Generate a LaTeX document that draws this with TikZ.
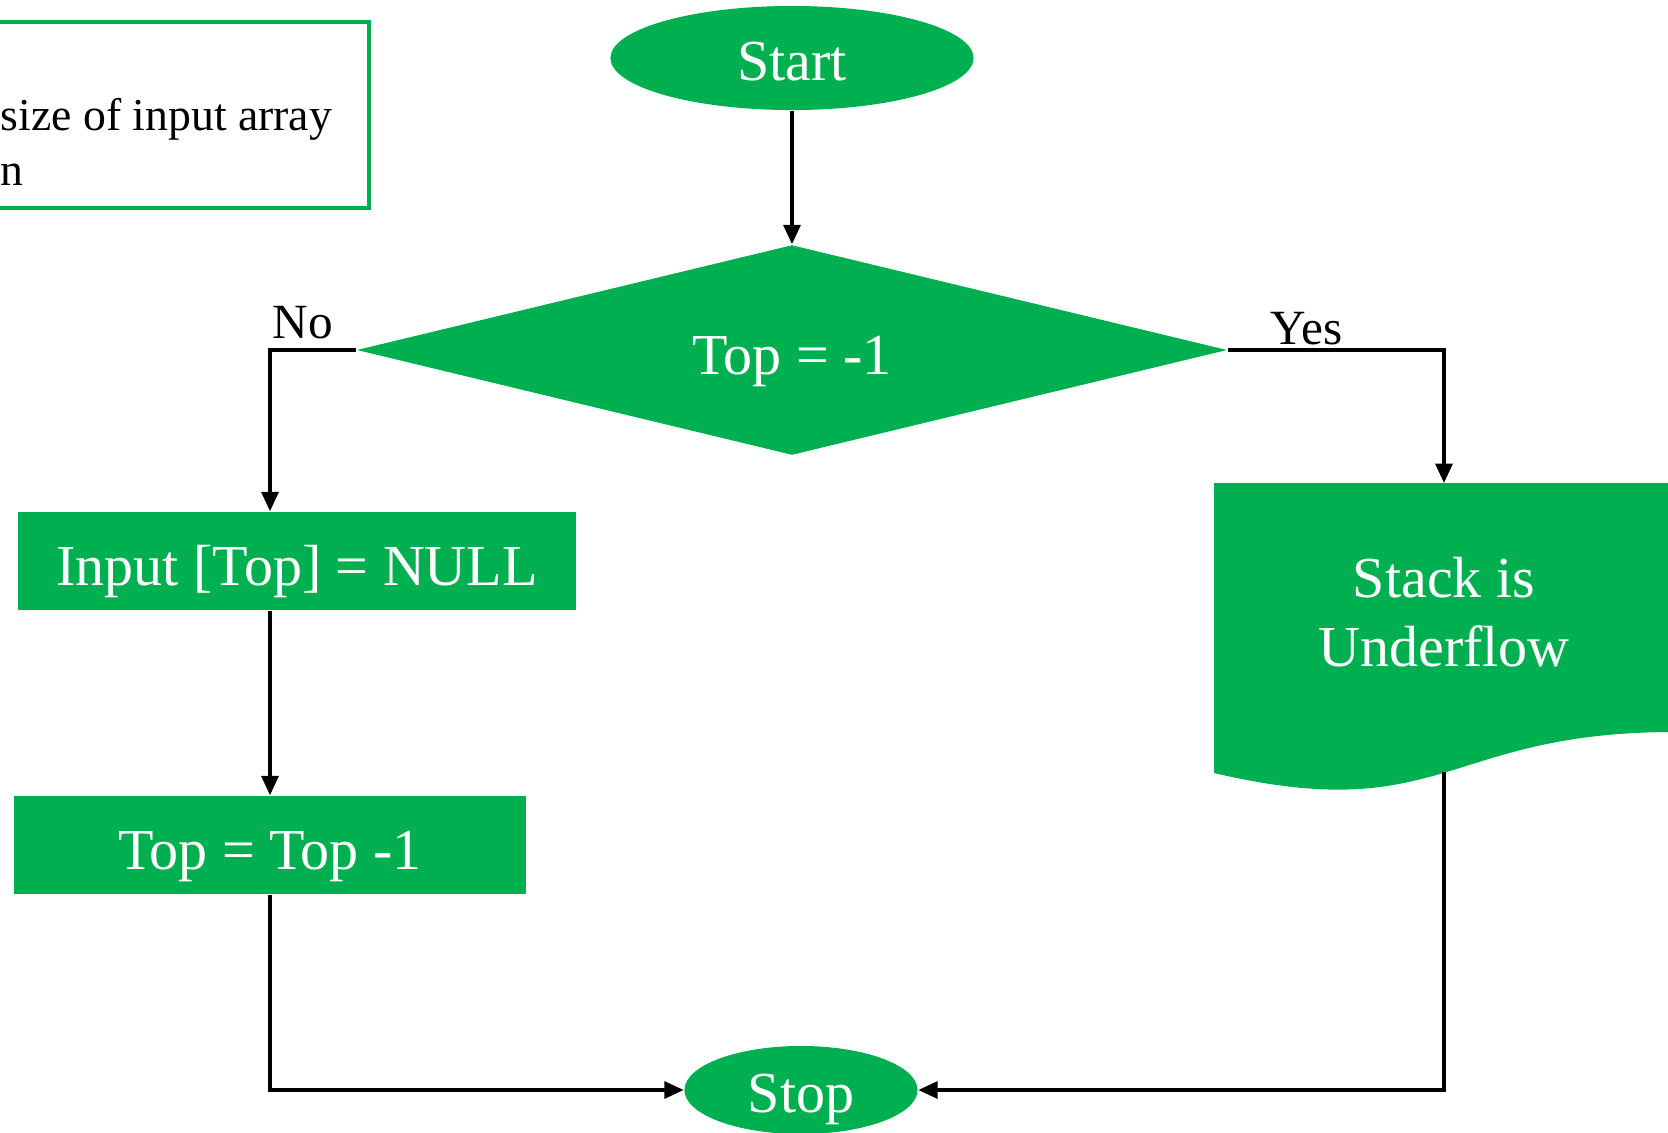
\documentclass[tikz,border=0pt]{standalone}
\usepackage{fontspec}
\setmainfont{Liberation Serif}
\usetikzlibrary{shapes.geometric,arrows.meta}
\definecolor{flowgreen}{RGB}{0,176,80}

\begin{document}
\begin{tikzpicture}[x=0.01cm,y=-0.01cm,
  bigtext/.style={font=\fontsize{16.5}{19.8}\selectfont},
  term/.style={ellipse,fill=flowgreen,text=white,inner sep=0pt,text height=14pt,text depth=1.4pt,bigtext},
  proc/.style={rectangle,fill=flowgreen,text=white,inner sep=0pt,minimum height=0.98cm,text height=17.3pt,text depth=3.6pt,bigtext},
  arr/.style={-{Triangle[length=5.5pt,width=4.8pt]},line width=0.95pt},
  lbl/.style={anchor=base west,inner sep=0pt,font=\fontsize{14}{16}\selectfont},
  notetext/.style={anchor=base west,inner sep=0pt,font=\fontsize{13}{15}\selectfont}]
  \useasboundingbox (0,0) rectangle (1668,1132);
  \clip (0,0) rectangle (1668,1132);

  \node[draw=flowgreen,line width=1.1pt,minimum width=3.79cm,minimum height=1.86cm,inner sep=0pt] (note) at (179,115) {};
  \node[notetext] (note1) at (0,130) {size of input array};
  \node[notetext] (note2) at (0,185) {n};

  \node[term,minimum width=3.63cm,minimum height=1.04cm] (start) at (792,58) {Start};
  \node[diamond,fill=flowgreen,text=white,inner sep=0pt,shape aspect=4.1,minimum width=8.7cm,minimum height=2.1cm,text height=17.8pt,text depth=3.6pt,bigtext] (dia) at (792,350) {Top = -1};
  \node[proc,minimum width=5.58cm] (inp) at (297,561) {Input [Top] = NULL};
  \node[proc,minimum width=5.12cm] (dec) at (270,845) {Top = Top -1};
  \node[term,minimum width=2.33cm,minimum height=0.88cm] (stop) at (801,1090) {Stop};

  \fill[flowgreen] (1214,483) -- (1674,483) -- (1674,732) .. controls (1444,732) and (1444,827) .. (1214,773) -- cycle;
  \coordinate (doctop) at (1444,483);
  \coordinate (docbot) at (1444,772);
  \node[text=white,align=center,bigtext] (uflow) at (1444,612) {Stack is\\Underflow};

  \node[lbl] (no) at (272,338) {No};
  \node[lbl] (yes) at (1270,344) {Yes};

  \draw[arr] (start) -- (dia);
  \draw[arr] (dia.west) -| (dec.north |- inp.north);
  \draw[arr] (dia.east) -| (doctop);
  \draw[arr] (dec.north |- inp.south) -- (dec.north);
  \draw[arr] (dec.south) |- (stop.west);
  \draw[arr] (docbot) |- (stop.east);
\end{tikzpicture}
\end{document}
